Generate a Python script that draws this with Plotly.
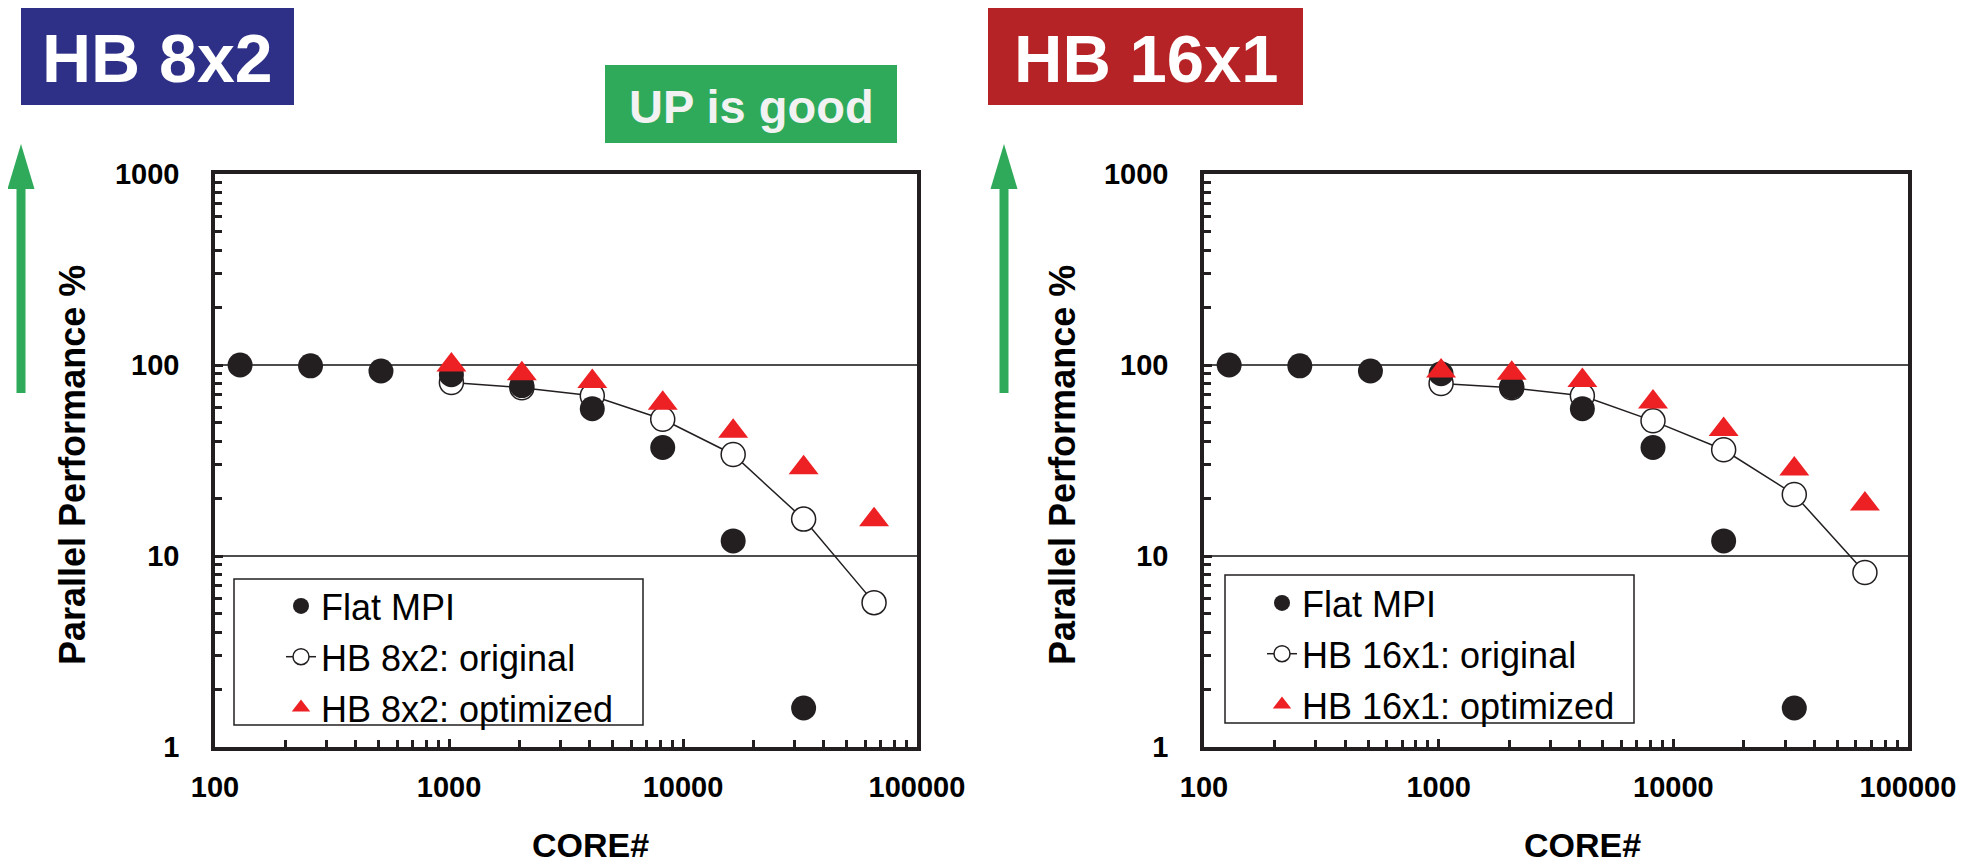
import plotly.graph_objects as go

# page is 1977x866; the html body has an 8px margin, so the figure itself is
# 8px smaller and every reference pixel position is shifted by 8px.
W, H = 1977, 866
OFF = 8
FW, FH = W - OFF, H - OFF

# ---------------- data ----------------
cores_flat = [128, 256, 512, 1024, 2048, 4096, 8192, 16384, 32768]
cores_hb = [1024, 2048, 4096, 8192, 16384, 32768, 65536]

flat_mpi_8x2 = [100, 99, 93, 89, 78, 59, 37, 12, 1.6]
hb8x2_original = [81, 76, 69, 52, 34, 15.6, 5.7]
hb8x2_optimized = [100, 90, 82, 63, 45, 29, 15.5]

flat_mpi_16x1 = [100, 99, 93, 90, 77, 59, 37, 12, 1.6]
hb16x1_original = [80, 76, 69, 51, 36, 21, 8.2]
hb16x1_optimized = [93, 90.5, 83, 64, 46, 28.5, 18.7]

x_tickvals = [100, 1000, 10000, 100000]
x_ticktext = ["100", "1000", "10000", "100000"]
y_tickvals = [1, 10, 100, 1000]
y_ticktext = ["1", "10", "100", "1000"]

panel_titles = ["HB 8x2", "HB 16x1"]
legend_names = [
    ["Flat MPI", "HB 8x2: original", "HB 8x2: optimized"],
    ["Flat MPI", "HB 16x1: original", "HB 16x1: optimized"],
]

# minor tick positions (2..9 in each decade)
x_minor = [m * 10 ** e for e in (2, 3, 4) for m in range(2, 10)]
y_minor = [m * 10 ** e for e in (0, 1, 2) for m in range(2, 10)]

# ---------------- helpers ----------------
def px(x):
    return (x - OFF) / FW

def py(y):
    return 1 - (y - OFF) / FH

FONT = "Liberation Sans, Arial, sans-serif"
BLACK = "#231f20"
RED = "#ed2024"
GREEN = "#2eaa5a"

fig = go.Figure()

panels = [
    dict(xa="x", ya="y", leg="legend", flat=flat_mpi_8x2, orig=hb8x2_original,
         opt=hb8x2_optimized, names=legend_names[0]),
    dict(xa="x2", ya="y2", leg="legend2", flat=flat_mpi_16x1, orig=hb16x1_original,
         opt=hb16x1_optimized, names=legend_names[1]),
]

for p in panels:
    fig.add_trace(go.Scatter(
        x=cores_hb, y=p["orig"], mode="lines+markers", name=p["names"][1],
        xaxis=p["xa"], yaxis=p["ya"], legend=p["leg"], legendrank=2,
        legendgroup=p["leg"] + "b",
        line=dict(color=BLACK, width=1.5),
        marker=dict(symbol="circle", size=24, color="white",
                    line=dict(color=BLACK, width=1.5)),
    ))
    fig.add_trace(go.Scatter(
        x=cores_flat, y=p["flat"], mode="markers", name=p["names"][0],
        xaxis=p["xa"], yaxis=p["ya"], legend=p["leg"], legendrank=1,
        legendgroup=p["leg"] + "a",
        marker=dict(symbol="circle", size=25, color=BLACK,
                    line=dict(color=BLACK, width=0)),
    ))
    fig.add_trace(go.Scatter(
        x=cores_hb, y=p["opt"], mode="markers", name=p["names"][2],
        xaxis=p["xa"], yaxis=p["ya"], legend=p["leg"], legendrank=3,
        legendgroup=p["leg"] + "c",
        marker=dict(symbol="triangle-up", size=26, color=RED,
                    line=dict(color=RED, width=0)),
    ))

axis_common = dict(
    type="log",
    showline=True, mirror=True, linecolor=BLACK, linewidth=3.5,
    ticks="inside", ticklen=8, tickwidth=3, tickcolor=BLACK,
    tickfont=dict(family=FONT, size=29, color="black", weight="bold"),
    zeroline=False, automargin=False,
)

xdomains = [[px(215), px(917)], [px(1204), px(1908)]]
ydomain = [py(747), py(174)]

for i, (xn, yn) in enumerate([("xaxis", "yaxis"), ("xaxis2", "yaxis2")]):
    xa = dict(axis_common)
    xa.update(domain=xdomains[i], range=[2, 5], tickmode="array",
              tickvals=x_tickvals, ticktext=x_ticktext, showgrid=False,
              ticklabelstandoff=11, anchor="y" if i == 0 else "y2",
              minor=dict(tickmode="array", tickvals=x_minor, ticks="inside",
                         ticklen=7, tickwidth=3, tickcolor=BLACK, showgrid=False))
    ya = dict(axis_common)
    ya.update(domain=ydomain, range=[0, 3], tickmode="array",
              tickvals=y_tickvals, ticktext=y_ticktext, showgrid=True,
              gridcolor="#4d4d4d", gridwidth=1.5, ticklabelstandoff=26,
              anchor="x" if i == 0 else "x2",
              minor=dict(tickmode="array", tickvals=y_minor, ticks="inside",
                         ticklen=7, tickwidth=3, tickcolor=BLACK, showgrid=False))
    fig.layout[xn] = xa
    fig.layout[yn] = ya

legend_common = dict(
    font=dict(family=FONT, size=36, color="black"),
    bgcolor="rgba(0,0,0,0)", borderwidth=0,
    traceorder="grouped", tracegroupgap=1,
    xanchor="left", yanchor="top", itemsizing="trace",
)
fig.layout.legend = dict(legend_common, x=px(281), y=py(576))
fig.layout.legend2 = dict(legend_common, x=px(1262), y=py(573))

shapes = []
annotations = []

# legend boxes
for (x0, y0, x1, y1) in [(234, 579, 643, 725), (1225, 575, 1634, 723)]:
    shapes.append(dict(type="rect", xref="paper", yref="paper",
                       x0=px(x0), x1=px(x1), y0=py(y1), y1=py(y0),
                       line=dict(color=BLACK, width=1.5), fillcolor="rgba(0,0,0,0)"))

# title boxes
title_boxes = [
    (21, 7, 294, 105, "#2e3087", panel_titles[0], 68),
    (988, 7, 1303, 105, "#b52326", panel_titles[1], 67),
]
for (x0, y0, x1, y1, col, txt, fs) in title_boxes:
    shapes.append(dict(type="rect", xref="paper", yref="paper",
                       x0=px(x0), x1=px(x1), y0=py(y1), y1=py(y0),
                       line=dict(width=0), fillcolor=col, layer="below"))
    annotations.append(dict(text=txt, xref="paper", yref="paper",
                            x=px((x0 + x1) / 2), y=py((y0 + y1) / 2 + 2),
                            xanchor="center", yanchor="middle", showarrow=False,
                            font=dict(family=FONT, size=fs, color="white", weight="bold")))

# UP is good box
shapes.append(dict(type="rect", xref="paper", yref="paper",
                   x0=px(605), x1=px(897), y0=py(143), y1=py(65),
                   line=dict(width=0), fillcolor=GREEN, layer="below"))
annotations.append(dict(text="UP is good", xref="paper", yref="paper",
                        x=px(751), y=py(106), xanchor="center", yanchor="middle",
                        showarrow=False,
                        font=dict(family=FONT, size=47, color="#f2f2f2", weight="bold")))

# green arrows
for cx in [21, 1004]:
    shapes.append(dict(type="rect", xref="paper", yref="paper",
                       x0=px(cx - 4.5), x1=px(cx + 4.5), y0=py(393), y1=py(188),
                       line=dict(width=0), fillcolor=GREEN))
    shapes.append(dict(type="path", xref="paper", yref="paper",
                       path=f"M {px(cx - 13.5)},{py(189)} L {px(cx + 13.5)},{py(189)} L {px(cx)},{py(144)} Z",
                       line=dict(width=0), fillcolor=GREEN))

# axis titles
for cx in [72, 1062]:
    annotations.append(dict(text="Parallel Performance %", xref="paper", yref="paper",
                            x=px(cx), y=py(465), xanchor="center", yanchor="middle",
                            textangle=-90, showarrow=False,
                            font=dict(family=FONT, size=36, color="black", weight="bold")))
for cx in [590, 1582]:
    annotations.append(dict(text="CORE#", xref="paper", yref="paper",
                            x=px(cx), y=py(845), xanchor="center", yanchor="middle",
                            showarrow=False, borderpad=0,
                            font=dict(family=FONT, size=34, color="black", weight="bold")))

fig.update_layout(
    width=FW, height=FH,
    margin=dict(l=0, r=0, t=0, b=0, pad=0, autoexpand=False),
    paper_bgcolor="white", plot_bgcolor="white",
    shapes=shapes, annotations=annotations,
    showlegend=True,
)

fig.write_html("out.html")
